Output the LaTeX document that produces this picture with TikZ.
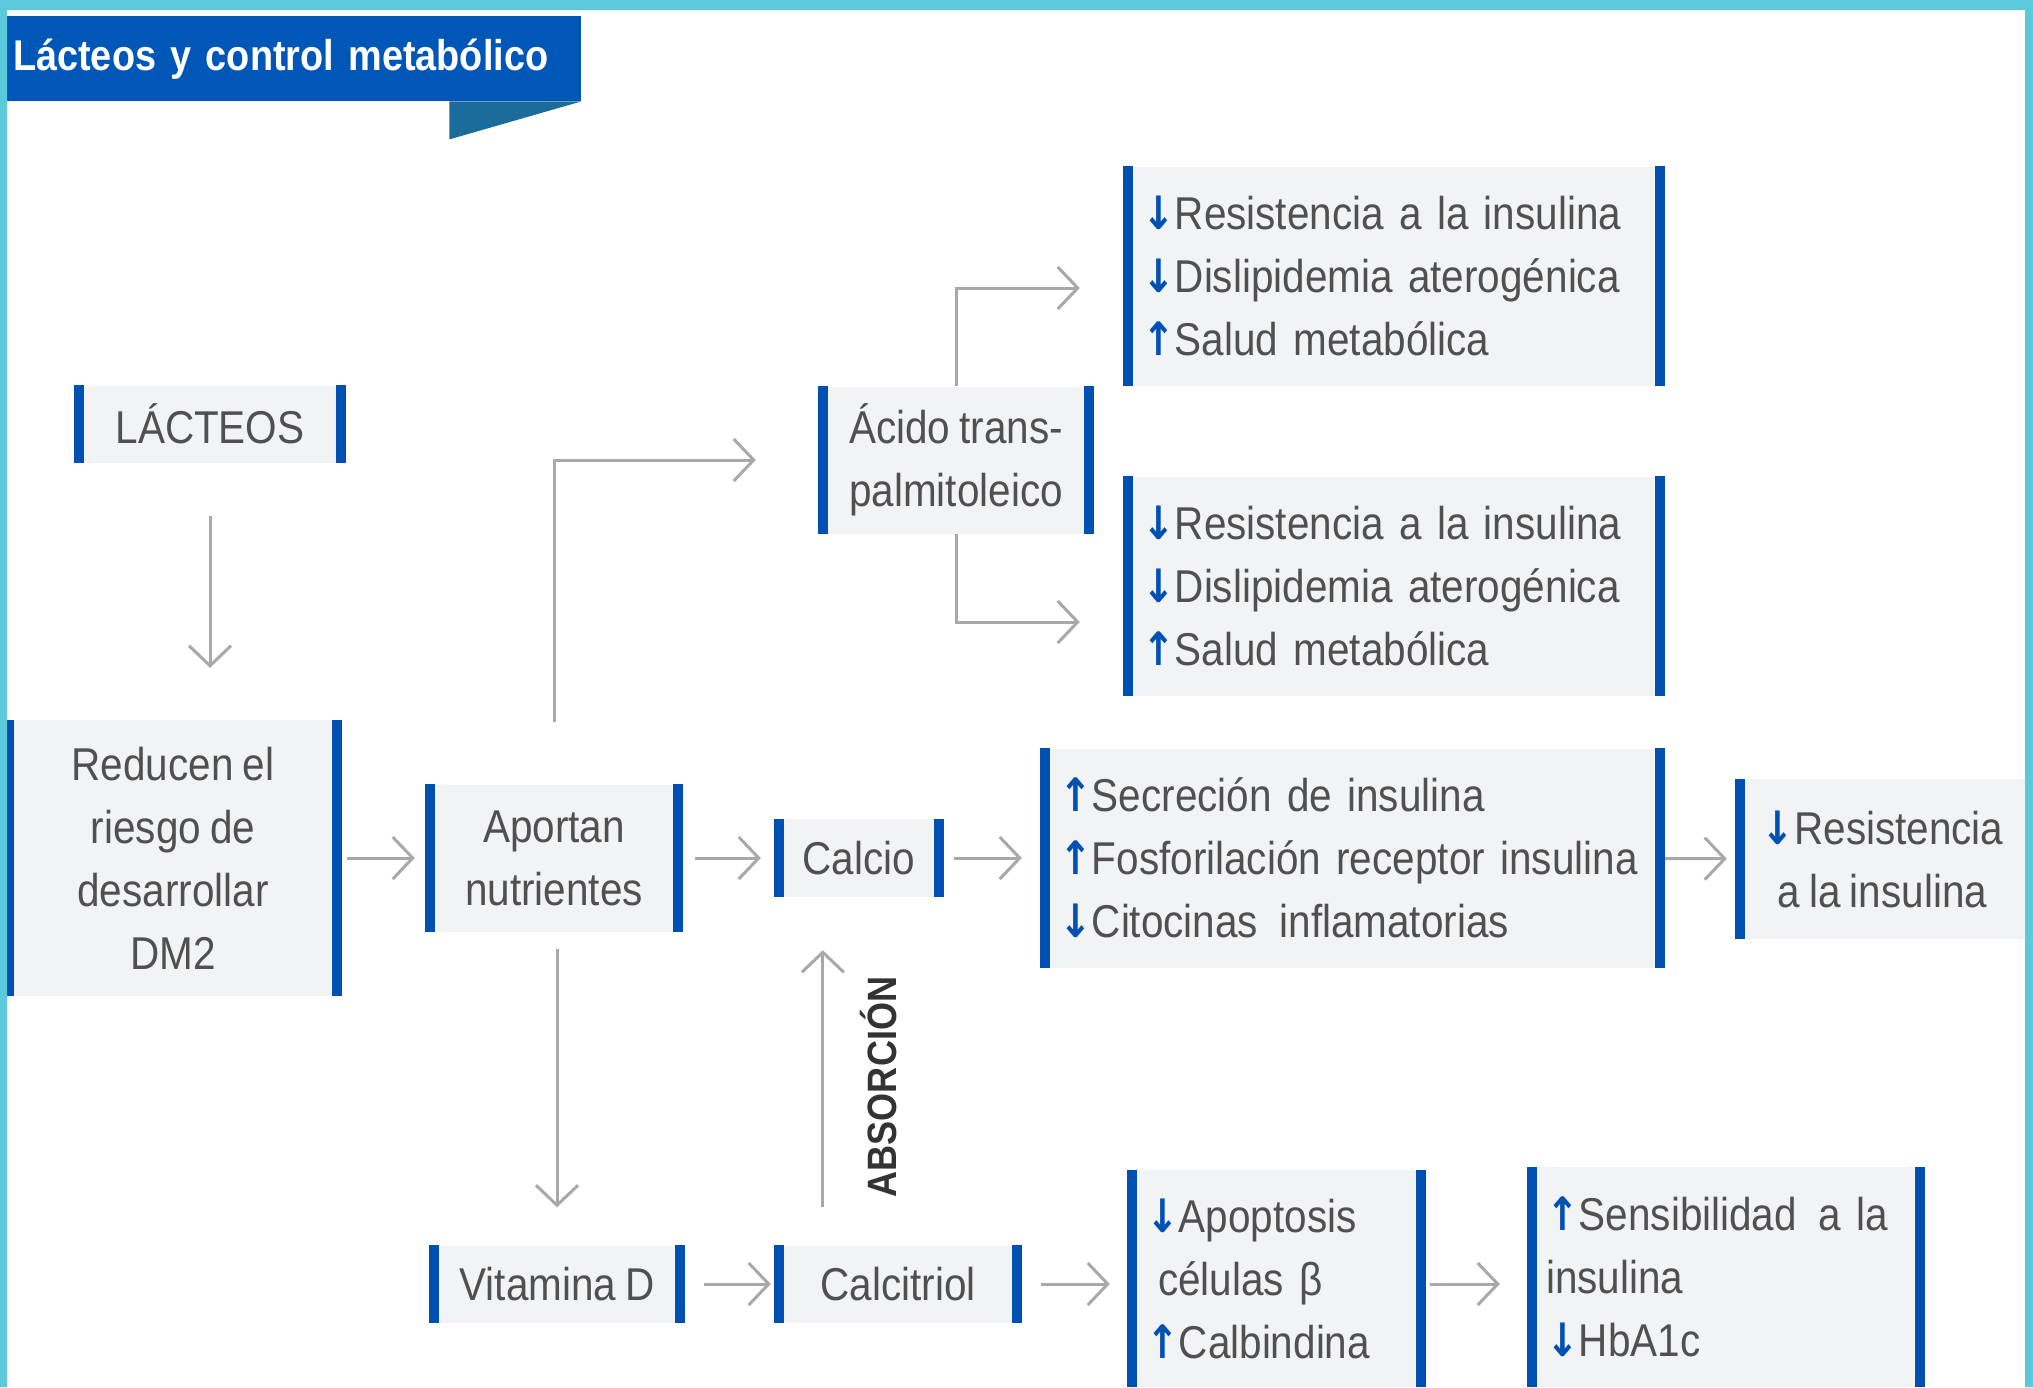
\documentclass[tikz,border=0pt]{standalone}
\usepackage{fontspec}
\setmainfont{Liberation Sans}[FakeStretch=0.88, WordSpace=0.8]
\newfontfamily\arrowFont{DejaVu Sans}[FakeStretch=0.85]
\usetikzlibrary{arrows.meta}

\definecolor{frameCyan}{HTML}{5BC8DB}
\definecolor{bannerBlue}{HTML}{0057B8}
\definecolor{bannerTail}{HTML}{1B6C9B}
\definecolor{barBlue}{HTML}{0050B4}
\definecolor{boxGray}{HTML}{F2F3F5}
\definecolor{flowGray}{HTML}{A8A8A8}
\definecolor{textGray}{HTML}{505050}

\newcommand{\dnArrow}{{\arrowFont\bfseries\color{barBlue}↓}}
\newcommand{\upArrow}{{\arrowFont\bfseries\color{barBlue}↑}}
\newcommand{\noHyphens}{\hyphenpenalty=10000\relax}
\newcommand{\sideBars}[1]{\draw[side bar] (#1.north west) -- (#1.south west)
  (#1.north east) -- (#1.south east);}

\tikzset{
  flow box/.style={fill=boxGray, inner xsep=14pt, inner ysep=0pt, text=textGray,
    font=\fontsize{46}{63}\selectfont},
  list box/.style={flow box, align=left, text width=#1,
    execute at begin node=\noHyphens},
  side bar/.style={draw=barBlue, line width=10pt},
  flow arrow/.style={draw=flowGray, line width=3pt,
    -{Straight Barb[length=20pt,width=42pt]}},
}

\begin{document}
\begin{tikzpicture}[x=1pt,y=-1pt]
      \useasboundingbox (0,0) rectangle (2033,1387);
      \fill[white] (0,0) rectangle (2033,1387);
      % \draw[help lines,step=100pt] (0,0) grid (2033,1387);

      \node (titleBanner) [fill=bannerBlue, text=white, anchor=north west,
      minimum width=575pt, minimum height=85pt, inner xsep=7pt, inner ysep=0pt,
      text width=561pt, align=left, font=\bfseries\fontsize{43}{50}\selectfont]
      at (6,16) {\raisebox{4pt}{Lácteos y control metabólico}};
      \fill[bannerTail] (titleBanner.south east) -- ++(-132,0) -- ++(0,38) -- cycle;

      \node (lacteosBox) [flow box, minimum width=261pt, minimum height=77pt]
      at (210,424) {LÁCTEOS}; \node (reducenBox) [flow box, align=center,
      minimum width=327pt, minimum height=276pt] at (173,858)
      {Reducen el\\riesgo de\\desarrollar\\DM2};
      \node (aportanBox) [flow box, align=center, minimum width=248pt,
      minimum height=147pt] at (554,858) {Aportan\\nutrientes};
      \node (calcioBox) [flow box, minimum width=160pt, minimum height=78pt]
      at (859,858) {Calcio};
      \node (acidoBox) [flow box, align=center, minimum width=266pt,
      minimum height=147pt] at (956,460) {Ácido trans-\\palmitoleico};

      \node (acidoUpBox) [list box=504pt, minimum height=219pt] at (1394,276)
      {\dnArrow Resistencia a la insulina\\\dnArrow Dislipidemia aterogénica\\\upArrow Salud metabólica};
      \node (acidoDownBox) [list box=504pt, minimum height=219pt] at (1394,586)
      {\dnArrow Resistencia a la insulina\\\dnArrow Dislipidemia aterogénica\\\upArrow Salud metabólica};
      \node (calcioEffects) [list box=587pt, minimum height=219pt] at (1352.5,858)
      {\upArrow Secreción de insulina\\\upArrow Fosforilación receptor insulina\\\dnArrow Citocinas\hspace*{6pt} inflamatorias};
      \node (resistenciaBox) [flow box, align=center, minimum width=285pt,
      minimum height=160pt] at (1882.5,859) {\dnArrow Resistencia\\a la insulina};

      \node (vitaminaBox) [flow box, minimum width=246pt, minimum height=77pt]
      at (557,1284) {Vitamina D}; \node (calcitriolBox) [flow box,
      minimum width=238pt, minimum height=77pt] at (898,1284) {Calcitriol};
      \node (apoptosisBox) [list box=261pt, minimum height=217pt] at (1276.5,1278.5)
      {\dnArrow Apoptosis\\\hspace*{12pt}células β\\\upArrow Calbindina};
      \node (sensibilidadBox) [list box=360pt, minimum height=220pt] at (1726,1277)
      {\upArrow Sensibilidad\hspace*{6pt} a la\\insulina\\\dnArrow HbA1c};

      \node (absorcionLabel) [rotate=90, text=black!80,
      font=\bfseries\fontsize{41}{41}\selectfont] at (879,1087) {ABSORCIÓN};

      \draw[flow arrow, shorten <=53pt, shorten >=52pt] (lacteosBox.south)
      -- (lacteosBox.south |- reducenBox.north);
      \draw[flow arrow, shorten <=10pt, shorten >=15pt] (reducenBox) -- (aportanBox);
      \draw[flow arrow, shorten <=17pt, shorten >=18pt] (aportanBox) -- (calcioBox);
      \draw[flow arrow, shorten <=15pt, shorten >=23pt] (calcioBox) -- (calcioEffects);
      \draw[flow arrow, shorten >=13pt] (calcioEffects) -- (resistenciaBox);
      \draw[flow arrow, shorten <=62pt, shorten >=67pt] (aportanBox.north)
      |- (acidoBox.west);
      \draw[flow arrow, shorten >=48pt] (acidoBox.north)
      |- ([yshift=-12pt]acidoUpBox.west);
      \draw[flow arrow, shorten >=48pt] (acidoBox.south)
      |- ([yshift=-36pt]acidoDownBox.west);
      \draw[flow arrow, shorten <=17pt, shorten >=38pt]
      (aportanBox.south -| vitaminaBox.north) -- (vitaminaBox.north);
      \draw[flow arrow, shorten <=24pt, shorten >=8pt] (vitaminaBox) -- (calcitriolBox);
      \draw[flow arrow, shorten <=38pt, shorten >=53pt]
      ([xshift=44pt]calcitriolBox.north west) -- ([xshift=44pt]calcioBox.south west);
      \draw[flow arrow, shorten <=24pt, shorten >=22pt] (calcitriolBox.east)
      -- (calcitriolBox.east -| apoptosisBox.west);
      \draw[flow arrow, shorten <=9pt, shorten >=32pt]
      (apoptosisBox.east |- calcitriolBox.east)
      -- (calcitriolBox.east -| sensibilidadBox.west);

      \sideBars{lacteosBox} \sideBars{reducenBox} \sideBars{aportanBox}
      \sideBars{calcioBox} \sideBars{acidoBox} \sideBars{acidoUpBox}
      \sideBars{acidoDownBox} \sideBars{calcioEffects} \sideBars{vitaminaBox}
      \sideBars{calcitriolBox} \sideBars{apoptosisBox} \sideBars{sensibilidadBox}
      \draw[side bar] (resistenciaBox.north west) -- (resistenciaBox.south west);

      \fill[frameCyan] (0,0) rectangle (2033,10) (0,0) rectangle (7,1387)
      (2025,0) rectangle (2033,1387);
\end{tikzpicture}
\end{document}
